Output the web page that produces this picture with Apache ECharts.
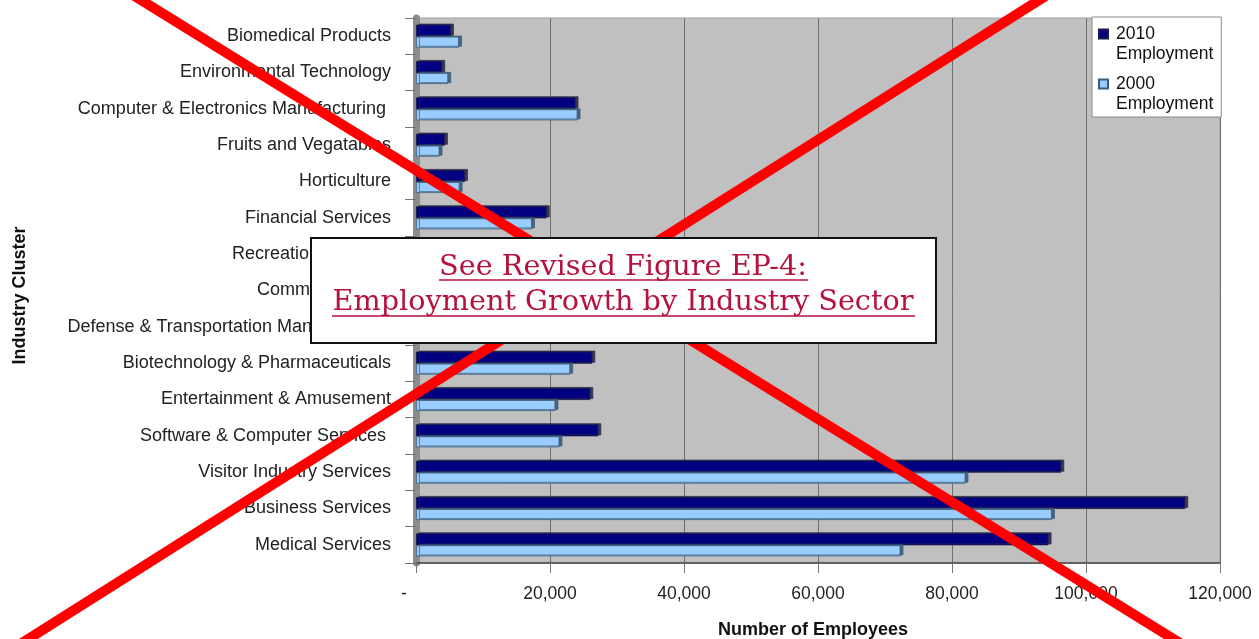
<!DOCTYPE html>
<html>
<head>
<meta charset="utf-8">
<script src="https://cdn.jsdelivr.net/npm/echarts@6/dist/echarts.min.js"></script>
<style>
html,body{margin:0;padding:0;background:#fff;}
#chart{width:1259px;height:639px;}
</style>
</head>
<body>
<div id="chart"></div>
<script>
const categories = [
  "Biomedical Products",
  "Environmental Technology",
  "Computer & Electronics Manufacturing ",
  "Fruits and Vegatables",
  "Horticulture",
  "Financial Services",
  "Recreational Goods",
  "Communications",
  "Defense & Transportation Manufacturing",
  "Biotechnology & Pharmaceuticals",
  "Entertainment & Amusement",
  "Software & Computer Services ",
  "Visitor Industry Services",
  "Business Services",
  "Medical Services"
];
const employment2010 = [5200, 3900, 23800, 4300, 7300, 19500, 9000, 15000, 30000, 26300, 26000, 27200, 96300, 114800, 94400];
const employment2000 = [6400, 4800, 24100, 3500, 6500, 17300, 8000, 12000, 28000, 23000, 20800, 21400, 82000, 94900, 72300];
const xTicks = ["-", "20,000", "40,000", "60,000", "80,000", "100,000", "120,000"];
const seriesNames = ["2010\nEmployment", "2000\nEmployment"];

const chart = echarts.init(document.getElementById('chart'), null, {renderer: 'canvas'});
const labelFont = 'Liberation Sans, Arial, sans-serif';

const option = {
  animation: false,
  backgroundColor: '#ffffff',
  textStyle: {fontFamily: labelFont},
  grid: {
    left: 416, right: 39, top: 18, bottom: 76,
    show: true, backgroundColor: '#c0c0c0', borderColor: '#a0a0a0', borderWidth: 1,
    containLabel: false,
    outerBoundsMode: 'none'
  },
  legend: {
    orient: 'vertical',
    left: 1092, top: 17,
    backgroundColor: '#ffffff',
    borderColor: '#8a8a8a', borderWidth: 1,
    padding: [7, 8, 3, 6],
    itemGap: 10,
    itemWidth: 9, itemHeight: 29,
    icon: 'path://M0,0L9,0L9,9L0,9Z M4.5,29L4.51,29',
    align: 'left',
    textStyle: {fontSize: 17.5, color: '#111', fontFamily: labelFont, lineHeight: 20, padding: [0, 0, 0, 3]},
    data: seriesNames
  },
  xAxis: {
    type: 'value',
    min: 0, max: 120000, interval: 20000,
    name: 'Number of Employees',
    nameLocation: 'middle',
    nameGap: 58,
    nameTextStyle: {fontSize: 18, fontWeight: 'bold', color: '#111', fontFamily: labelFont, padding: [0, 10, 0, 0]},
    axisLine: {show: true, lineStyle: {color: '#444', width: 1.5}},
    axisTick: {show: true, length: 10, lineStyle: {color: '#777'}},
    axisLabel: {
      fontSize: 17.5, color: '#222', margin: 22,
      formatter: function (v) {
        const t = xTicks[Math.round(v / 20000)];
        return v === 0 ? '{z|' + t + '}' : t;
      },
      rich: {z: {fontSize: 17.5, color: '#222', padding: [0, 24, 0, 0]}}
    },
    splitLine: {show: true, lineStyle: {color: '#6e6e6e', width: 1}}
  },
  yAxis: {
    type: 'category',
    data: categories,
    inverse: true,
    name: 'Industry Cluster',
    nameLocation: 'middle',
    nameGap: 387,
    nameRotate: 90,
    nameTextStyle: {fontSize: 18, fontWeight: 'bold', color: '#111', fontFamily: labelFont, padding: [0, 10, 0, 0]},
    axisLine: {show: true, lineStyle: {color: '#8c8c8c', width: 7}},
    axisTick: {show: true, length: 11, lineStyle: {color: '#777'}},
    axisLabel: {fontSize: 18, color: '#222', margin: 25, fontFamily: labelFont}
  },
  series: [
    {
      name: seriesNames[0],
      type: 'bar',
      data: employment2010,
      barWidth: 12,
      barGap: '0%',
      itemStyle: {
        color: '#000080', borderColor: '#1a1a4a', borderWidth: 0.8,
        shadowColor: 'rgba(40,40,70,0.9)', shadowOffsetX: 3, shadowOffsetY: -1, shadowBlur: 0
      }
    },
    {
      name: seriesNames[1],
      type: 'bar',
      data: employment2000,
      barWidth: 11,
      barGap: '0%',
      itemStyle: {
        color: '#99ccff', borderColor: '#3c5a7a', borderWidth: 0.8,
        shadowColor: 'rgba(60,90,120,0.9)', shadowOffsetX: 3, shadowOffsetY: -1, shadowBlur: 0
      }
    }
  ],
  graphic: [
    {type: 'line', shape: {x1: 128, y1: -8, x2: 1188, y2: 648}, style: {stroke: '#ff0000', lineWidth: 10}, z: 100},
    {type: 'line', shape: {x1: 1052, y1: -8, x2: 14, y2: 648}, style: {stroke: '#ff0000', lineWidth: 10}, z: 100},
    {type: 'rect', shape: {x: 311, y: 238, width: 625, height: 105}, style: {fill: '#ffffff', stroke: '#111111', lineWidth: 2}, z: 110},
    {type: 'text', x: 623, y: 268, z: 120, style: {text: 'See Revised Figure EP-4:', fill: '#b5123e', font: '28.7px "DejaVu Serif", "Liberation Serif", serif', align: 'center', verticalAlign: 'middle'}},
    {type: 'text', x: 623, y: 303, z: 120, style: {text: 'Employment Growth by Industry Sector', fill: '#b5123e', font: '28.7px "DejaVu Serif", "Liberation Serif", serif', align: 'center', verticalAlign: 'middle'}},
    {type: 'line', shape: {x1: 439, y1: 280, x2: 808, y2: 280}, style: {stroke: '#b5123e', lineWidth: 1.5}, z: 120},
    {type: 'line', shape: {x1: 332, y1: 316, x2: 915, y2: 316}, style: {stroke: '#b5123e', lineWidth: 1.5}, z: 120}
  ]
};
chart.setOption(option);
</script>
</body>
</html>
